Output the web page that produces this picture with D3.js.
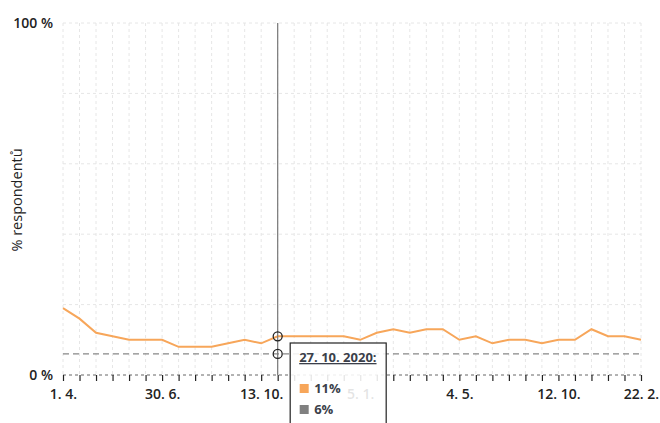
<!DOCTYPE html>
<html><head><meta charset="utf-8">
<script src="https://cdn.jsdelivr.net/npm/d3@7"></script>
<style>
body{margin:0;background:#fff;}
svg{display:block;font-family:"Open Sans","Noto Sans",sans-serif;}
</style></head>
<body><svg id="c" width="660" height="423"></svg>
<script>
const dates = ["1. 4. 2020","14. 4. 2020","28. 4. 2020","12. 5. 2020","26. 5. 2020","9. 6. 2020","30. 6. 2020","14. 7. 2020","4. 8. 2020","25. 8. 2020","15. 9. 2020","29. 9. 2020","13. 10. 2020","27. 10. 2020","10. 11. 2020","24. 11. 2020","8. 12. 2020","22. 12. 2020","5. 1. 2021","19. 1. 2021","9. 2. 2021","2. 3. 2021","23. 3. 2021","13. 4. 2021","4. 5. 2021","1. 6. 2021","29. 6. 2021","27. 7. 2021","24. 8. 2021","21. 9. 2021","12. 10. 2021","9. 11. 2021","30. 11. 2021","4. 1. 2022","25. 1. 2022","22. 2. 2022"];
const tickLabels = ["1. 4.","30. 6.","13. 10.","5. 1.","4. 5.","12. 10.","22. 2."];
const tickIndex = [0,6,12,18,24,30,35];
const seriesMain = [19,16,12,11,10,10,10,8,8,8,9,10,9,11,11,11,11,11,10,12,13,12,13,13,10,11,9,10,10,9,10,10,13,11,11,10];
const seriesRef = [6,6,6,6,6,6,6,6,6,6,6,6,6,6,6,6,6,6,6,6,6,6,6,6,6,6,6,6,6,6,6,6,6,6,6,6];
const yTicks = [0,20,40,60,80,100];
const yLabelTicks = [0,100];
const hoverIndex = 13;

const svg = d3.select("#c");
const L=63, R=641, T=23, B=375;
const x = d3.scalePoint().domain(dates).range([L,R]);
const y = d3.scaleLinear().domain([0,100]).range([B,T]);

// grid
const g = svg.append("g");
g.selectAll("line.v").data(dates).join("line")
  .attr("x1",d=>x(d)).attr("x2",d=>x(d)).attr("y1",T).attr("y2",B)
  .attr("stroke","#e6e6e6").attr("stroke-dasharray","3,3");
g.selectAll("line.h").data(yTicks).join("line")
  .attr("x1",L).attr("x2",R).attr("y1",d=>y(d)).attr("y2",d=>y(d))
  .attr("stroke",d=>d===0?"#666":"#e6e6e6").attr("stroke-dasharray","3,3");

// y labels
svg.selectAll("text.yl").data(yLabelTicks).join("text")
  .attr("x",53).attr("y",d=>y(d)).attr("dy","0.35em").attr("text-anchor","end")
  .attr("font-size",14).attr("font-weight",600).attr("fill","#222")
  .text(d=>d+" %");
svg.append("text").attr("transform","translate(22,200) rotate(-90)")
  .attr("text-anchor","middle").attr("font-size",14.5).attr("fill","#222")
  .text("% respondentů");

// x axis ticks
const xAxis = d3.axisBottom(x).tickSize(6).tickFormat(d=>{const i=dates.indexOf(d);const k=tickIndex.indexOf(i);return k>=0?tickLabels[k]:"";});
const ax = svg.append("g").attr("transform",`translate(0,${B})`).call(xAxis);
ax.select(".domain").remove();
ax.selectAll(".tick line").attr("stroke","#222").attr("stroke-width",1.2);
ax.selectAll(".tick text").attr("font-size",14).attr("font-weight",600).attr("fill","#222")
  .attr("font-family","'Open Sans','Noto Sans',sans-serif").attr("dy","1.1em");

// reference dashed line
svg.append("path").datum(seriesRef)
  .attr("d",d3.line().x((d,i)=>x(dates[i])).y(d=>y(d)))
  .attr("fill","none").attr("stroke","#888").attr("stroke-width",1.3).attr("stroke-dasharray","6,4");
// main line
svg.append("path").datum(seriesMain)
  .attr("d",d3.line().x((d,i)=>x(dates[i])).y(d=>y(d)))
  .attr("fill","none").attr("stroke","#f7a65a").attr("stroke-width",2);

// hover
const hx = x(dates[hoverIndex]);
svg.append("line").attr("x1",hx).attr("x2",hx).attr("y1",T).attr("y2",B)
  .attr("stroke","#777").attr("stroke-width",1.2);
[seriesMain[hoverIndex], seriesRef[hoverIndex]].forEach(v=>{
  svg.append("circle").attr("cx",hx).attr("cy",y(v)).attr("r",4.5)
    .attr("fill","none").attr("stroke","#222").attr("stroke-width",1.3);
});

// tooltip
const tt = svg.append("g").attr("transform",`translate(${hx+12.5},343)`);
tt.append("rect").attr("x",0).attr("y",0).attr("width",96).attr("height",90)
  .attr("fill","#fff").attr("fill-opacity",0.88).attr("stroke","#222").attr("stroke-width",1.2);
tt.append("text").attr("x",9).attr("y",19).attr("font-size",13).attr("font-weight",700)
  .attr("fill","#3b3f4a").attr("text-decoration","underline").text(dates[hoverIndex]+":");
const items=[{c:"#f7a65a",v:seriesMain[hoverIndex]},{c:"#808080",v:seriesRef[hoverIndex]}];
items.forEach((it,i)=>{
  tt.append("rect").attr("x",9.5).attr("y",41+i*21).attr("width",9).attr("height",9).attr("fill",it.c);
  tt.append("text").attr("x",24).attr("y",50+i*21).attr("font-size",13).attr("font-weight",700)
    .attr("fill","#3b3f4a").text(it.v+"%");
});
</script></body></html>
